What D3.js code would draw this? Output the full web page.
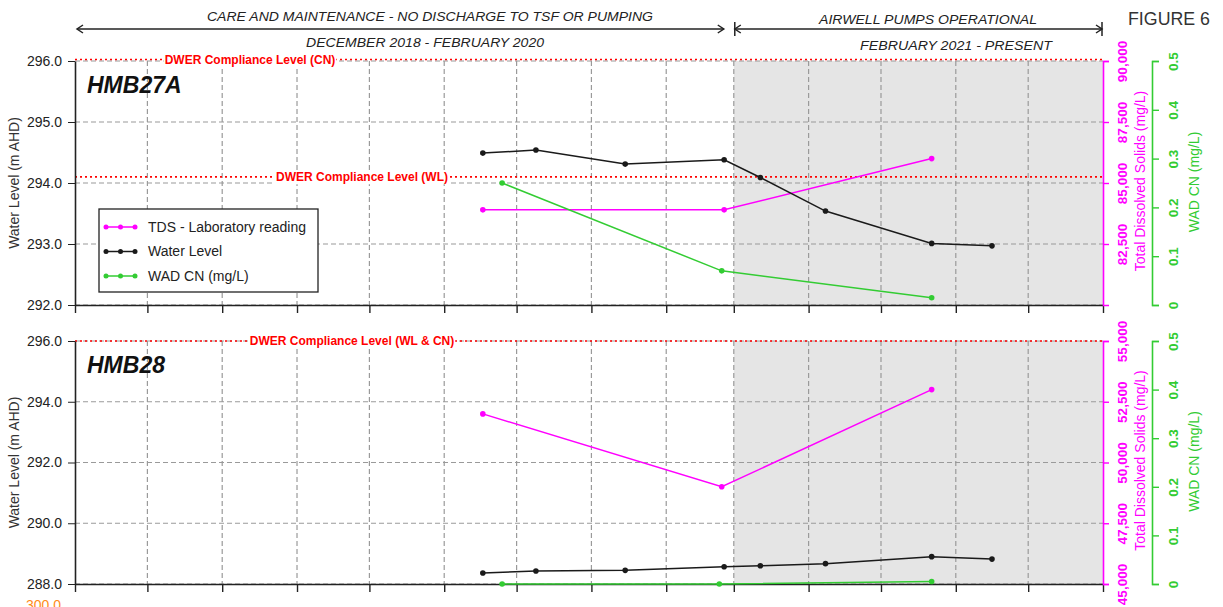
<!DOCTYPE html>
<html>
<head>
<meta charset="utf-8">
<script src="https://cdn.jsdelivr.net/npm/d3@7/dist/d3.min.js"></script>
<style>
    body { margin: 0; background: #fff; }
    svg  { display: block; font-family: "Liberation Sans", Arial, sans-serif; }
</style>
</head>
<body>
<svg id="main-canvas" width="1223" height="607"></svg>
<script>
// x axis: monthly ticks, June 2020 - August 2021
var xDomain   = ["2020-06-01", "2021-08-01"]
var pumpStart = "2021-03-01"

// HMB27A
var wlDates27  = ["2020-11-17", "2020-12-09", "2021-01-15", "2021-02-25", "2021-03-12", "2021-04-08", "2021-05-22", "2021-06-16"]
var wl27       = [294.49, 294.54, 294.31, 294.38, 294.09, 293.54, 293.01, 292.97]
var tdsDates27 = ["2020-11-17", "2021-02-25", "2021-05-22"]
var tds27      = [83900, 83900, 86000]
var cnDates27  = ["2020-11-25", "2021-02-24", "2021-05-22"]
var cn27       = [0.25, 0.07, 0.015]

// HMB28
var wlDates28  = ["2020-11-17", "2020-12-09", "2021-01-15", "2021-02-25", "2021-03-12", "2021-04-08", "2021-05-22", "2021-06-16"]
var wl28       = [288.36, 288.43, 288.45, 288.57, 288.60, 288.67, 288.90, 288.82]
var tdsDates28 = ["2020-11-17", "2021-02-24", "2021-05-22"]
var tds28      = [52000, 49000, 53000]
var cnDates28  = ["2020-11-25", "2021-02-23", "2021-05-22"]
var cn28       = [0, 0, 0.005]

// tick values
var wlTicks27  = [292, 293, 294, 295, 296]
var tdsTicks27 = [82500, 85000, 87500, 90000]
var wlTicks28  = [288, 290, 292, 294, 296]
var tdsTicks28 = [45000, 47500, 50000, 52500, 55000]
var cnTicks    = [0, 0.1, 0.2, 0.3, 0.4, 0.5]

var C_TDS = "#ff00ff", C_WL = "#1a1a1a", C_CN = "#33cc33", C_RED = "#ff0000"

var parse = d3.timeParse("%Y-%m-%d")
var svg   = d3.select("#main-canvas")
var left  = 75, right = 1103

var x = d3.scaleTime()
          .domain(xDomain.map(parse))
          .range([left, right])

var monthTicks = d3.timeMonth.range(parse(xDomain[0]), d3.timeDay.offset(parse(xDomain[1]), 1))

function zip(dates, vals) {
    return dates.map(function (d, i) { return { date: parse(d), v: vals[i] } })
}

function drawPanel(cfg) {
    var g = svg.append("g")

    var y    = d3.scaleLinear().domain(cfg.wlDomain).range([cfg.bottom, cfg.top])
    var yTds = d3.scaleLinear().domain(cfg.tdsDomain).range([cfg.bottom, cfg.top])
    var yCn  = d3.scaleLinear().domain([0, 0.5]).range([cfg.bottom, cfg.top])
    var scales = { wl: y, tds: yTds, cn: yCn }

    g.append("rect")
     .attr("x", x(parse(pumpStart)))
     .attr("y", cfg.top)
     .attr("width", right - x(parse(pumpStart)))
     .attr("height", cfg.bottom - cfg.top)
     .attr("fill", "#e5e5e5")

    // grid
    g.selectAll(".hgrid")
     .data(cfg.wlTicks)
     .enter().append("line")
     .attr("x1", left).attr("x2", right)
     .attr("y1", function (d) { return y(d) })
     .attr("y2", function (d) { return y(d) })
     .attr("stroke", "#9a9a9a").attr("stroke-width", 1.2)
     .attr("stroke-dasharray", "5,3")

    g.selectAll(".vgrid")
     .data(monthTicks.slice(1, -1))
     .enter().append("line")
     .attr("x1", function (d) { return x(d) })
     .attr("x2", function (d) { return x(d) })
     .attr("y1", cfg.top).attr("y2", cfg.bottom)
     .attr("stroke", "#9a9a9a").attr("stroke-width", 1.2)
     .attr("stroke-dasharray", "5,3")

    // compliance levels
    cfg.compliance.forEach(function (c) {
        var cy = scales[c.axis](c.value) + (c.offset || 0)
        g.append("line")
         .attr("x1", left).attr("x2", right)
         .attr("y1", cy).attr("y2", cy)
         .attr("stroke", C_RED).attr("stroke-width", 1.6)
         .attr("stroke-dasharray", "2,3")
        var t = g.append("text")
                 .attr("x", c.labelX)
                 .attr("y", cy)
                 .attr("dy", "0.36em")
                 .attr("text-anchor", "middle")
                 .attr("font-size", 12)
                 .attr("font-weight", "bold")
                 .attr("fill", C_RED)
                 .text(c.label)
        var bb = t.node().getBBox()
        g.insert("rect", function () { return t.node() })
         .attr("x", bb.x - 1).attr("y", bb.y)
         .attr("width", bb.width + 2).attr("height", bb.height)
         .attr("fill", "#fff")
    })

    // axes
    var ax = g.append("g")
              .attr("transform", "translate(0," + cfg.bottom + ")")
              .call(d3.axisBottom(x).tickValues(monthTicks).tickSize(8).tickSizeOuter(0).tickFormat(""))
    ax.select(".domain").attr("stroke", "#222").attr("stroke-width", 1.6)
    ax.selectAll(".tick line").attr("stroke", "#222").attr("stroke-width", 1.4)

    var ay = g.append("g")
              .attr("transform", "translate(" + left + ",0)")
              .call(d3.axisLeft(y).tickValues(cfg.wlTicks).tickSize(7).tickSizeOuter(0).tickPadding(6).tickFormat(d3.format(".1f")))
    ay.select(".domain").attr("stroke", "#222").attr("stroke-width", 1.6)
    ay.selectAll(".tick line").attr("stroke", "#222")
    ay.selectAll("text").attr("font-size", 14).attr("fill", "#222").attr("font-family", "Liberation Sans, Arial")

    var at = g.append("g")
              .attr("transform", "translate(" + right + ",0)")
              .call(d3.axisRight(yTds).tickValues(cfg.tdsTicks).tickSize(6).tickSizeOuter(6).tickFormat(d3.format(",")))
    at.select(".domain").attr("stroke", C_TDS).attr("stroke-width", 1.6)
    at.selectAll(".tick line").attr("stroke", C_TDS).attr("stroke-width", 1.4)
    at.selectAll("text")
      .attr("x", 0).attr("dy", 0)
      .attr("transform", "translate(24,0) rotate(-90)")
      .attr("text-anchor", "middle")
      .attr("font-size", 13.5).attr("font-weight", "bold")
      .attr("font-family", "Liberation Sans, Arial")
      .attr("fill", C_TDS)

    var ac = g.append("g")
              .attr("transform", "translate(1152,0)")
              .call(d3.axisRight(yCn).tickValues(cnTicks).tickSize(7).tickSizeOuter(7).tickFormat(function (d) { return d === 0 ? "0" : d3.format(".1f")(d) }))
    ac.select(".domain").attr("stroke", C_CN).attr("stroke-width", 1.6)
    ac.selectAll(".tick line").attr("stroke", C_CN).attr("stroke-width", 1.4)
    ac.selectAll("text")
      .attr("x", 0).attr("dy", 0)
      .attr("transform", "translate(26,0) rotate(-90)")
      .attr("text-anchor", "middle")
      .attr("font-size", 13.5).attr("font-weight", "bold")
      .attr("font-family", "Liberation Sans, Arial")
      .attr("fill", C_CN)

    var mid = (cfg.top + cfg.bottom) / 2
    g.append("text")
     .attr("transform", "translate(19," + mid + ") rotate(-90)")
     .attr("text-anchor", "middle")
     .attr("font-size", 14).attr("fill", "#333")
     .text("Water Level (m AHD)")
    g.append("text")
     .attr("transform", "translate(1145," + (mid - 2) + ") rotate(-90)")
     .attr("text-anchor", "middle")
     .attr("font-size", 14).attr("fill", C_TDS)
     .text("Total Dissolved Solids (mg/L)")
    g.append("text")
     .attr("transform", "translate(1199," + (mid - 1) + ") rotate(-90)")
     .attr("text-anchor", "middle")
     .attr("font-size", 14).attr("fill", C_CN)
     .text("WAD CN (mg/L)")

    // series
    var series = [
        { data: zip(cfg.tdsDates, cfg.tds), s: yTds, c: C_TDS },
        { data: zip(cfg.wlDates, cfg.wl),   s: y,    c: C_WL },
        { data: zip(cfg.cnDates, cfg.cn),   s: yCn,  c: C_CN }
    ]
    series.forEach(function (sr) {
        var line = d3.line()
                     .x(function (d) { return x(d.date) })
                     .y(function (d) { return sr.s(d.v) })
        g.append("path")
         .datum(sr.data)
         .attr("d", line)
         .attr("fill", "none")
         .attr("stroke", sr.c)
         .attr("stroke-width", 1.5)
        g.selectAll(null)
         .data(sr.data)
         .enter().append("circle")
         .attr("cx", function (d) { return x(d.date) })
         .attr("cy", function (d) { return sr.s(d.v) })
         .attr("r", 2.8)
         .attr("fill", sr.c)
    })

    g.append("text")
     .attr("x", 87)
     .attr("y", cfg.top + 32)
     .attr("font-size", 23)
     .attr("font-weight", "bold")
     .attr("font-style", "italic")
     .attr("fill", "#111")
     .text(cfg.name)

    return g
}

var p1 = drawPanel({
    name: "HMB27A", top: 61, bottom: 305,
    wlDomain: [292, 296], wlTicks: wlTicks27,
    tdsDomain: [80000, 90000], tdsTicks: tdsTicks27,
    wlDates: wlDates27, wl: wl27, tdsDates: tdsDates27, tds: tds27, cnDates: cnDates27, cn: cn27,
    compliance: [
        { axis: "cn", value: 0.5,   label: "DWER Compliance Level (CN)", labelX: 250, offset: -1.5 },
        { axis: "wl", value: 294.1, label: "DWER Compliance Level (WL)", labelX: 362 }
    ]
})

drawPanel({
    name: "HMB28", top: 341, bottom: 584,
    wlDomain: [288, 296], wlTicks: wlTicks28,
    tdsDomain: [45000, 55000], tdsTicks: tdsTicks28,
    wlDates: wlDates28, wl: wl28, tdsDates: tdsDates28, tds: tds28, cnDates: cnDates28, cn: cn28,
    compliance: [
        { axis: "wl", value: 296, label: "DWER Compliance Level (WL & CN)", labelX: 352 }
    ]
})

// legend (HMB27A)
var legendItems = [
    { label: "TDS - Laboratory reading", c: C_TDS },
    { label: "Water Level",              c: C_WL },
    { label: "WAD CN (mg/L)",            c: C_CN }
]
var lg = p1.append("g").attr("transform", "translate(99,209)")
lg.append("rect")
  .attr("width", 219).attr("height", 83)
  .attr("fill", "#fff").attr("stroke", "#222").attr("stroke-width", 1.3)
legendItems.forEach(function (it, i) {
    var ly = 18 + i * 24.5
    lg.append("line")
      .attr("x1", 7).attr("x2", 36).attr("y1", ly).attr("y2", ly)
      .attr("stroke", it.c).attr("stroke-width", 1.5)
    ;[7, 21.5, 36].forEach(function (cx) {
        lg.append("circle").attr("cx", cx).attr("cy", ly).attr("r", 2.5).attr("fill", it.c)
    })
    lg.append("text")
      .attr("x", 49).attr("y", ly).attr("dy", "0.35em")
      .attr("font-size", 14).attr("fill", "#222")
      .text(it.label)
})

// header
var header = svg.append("g").attr("fill", "#222").attr("font-style", "italic").attr("font-size", 12.5)
header.append("text").attr("x", 430).attr("y", 21).attr("text-anchor", "middle")
      .attr("textLength", 446).attr("lengthAdjust", "spacingAndGlyphs")
      .text("CARE AND MAINTENANCE - NO DISCHARGE TO TSF OR PUMPING")
header.append("text").attr("x", 425).attr("y", 47).attr("text-anchor", "middle")
      .attr("textLength", 238).attr("lengthAdjust", "spacingAndGlyphs")
      .text("DECEMBER 2018 - FEBRUARY 2020")
header.append("text").attr("x", 928).attr("y", 24).attr("text-anchor", "middle")
      .attr("textLength", 218).attr("lengthAdjust", "spacingAndGlyphs")
      .text("AIRWELL PUMPS OPERATIONAL")
header.append("text").attr("x", 956).attr("y", 50).attr("text-anchor", "middle")
      .attr("textLength", 192).attr("lengthAdjust", "spacingAndGlyphs")
      .text("FEBRUARY 2021 - PRESENT")

var xs = x(parse(pumpStart))
var arrows = svg.append("g").attr("stroke", "#222").attr("stroke-width", 1.5).attr("fill", "none")
arrows.append("line").attr("x1", 77).attr("x2", xs - 10).attr("y1", 29).attr("y2", 29)
arrows.append("path").attr("d", "M83,25 L77,29 L83,33")
arrows.append("path").attr("d", "M" + (xs - 16) + ",25 L" + (xs - 10) + ",29 L" + (xs - 16) + ",33")
arrows.append("line").attr("x1", xs + 1).attr("x2", right - 1).attr("y1", 29).attr("y2", 29)
arrows.append("line").attr("x1", xs + 1).attr("x2", xs + 1).attr("y1", 22).attr("y2", 36)
arrows.append("line").attr("x1", right - 1).attr("x2", right - 1).attr("y1", 22).attr("y2", 36)
arrows.append("path").attr("d", "M" + (xs + 7) + ",25 L" + (xs + 1) + ",29 L" + (xs + 7) + ",33")
arrows.append("path").attr("d", "M" + (right - 7) + ",25 L" + (right - 1) + ",29 L" + (right - 7) + ",33")

svg.append("text")
   .attr("x", 1128).attr("y", 25)
   .attr("font-size", 19).attr("fill", "#333")
   .attr("textLength", 82).attr("lengthAdjust", "spacingAndGlyphs")
   .text("FIGURE 6")

// next panel's top label, clipped by the page edge
svg.append("text")
   .attr("x", 61).attr("y", 610)
   .attr("text-anchor", "end")
   .attr("font-size", 14).attr("fill", "#ff8c1a")
   .text("300.0")
</script>
</body>
</html>
